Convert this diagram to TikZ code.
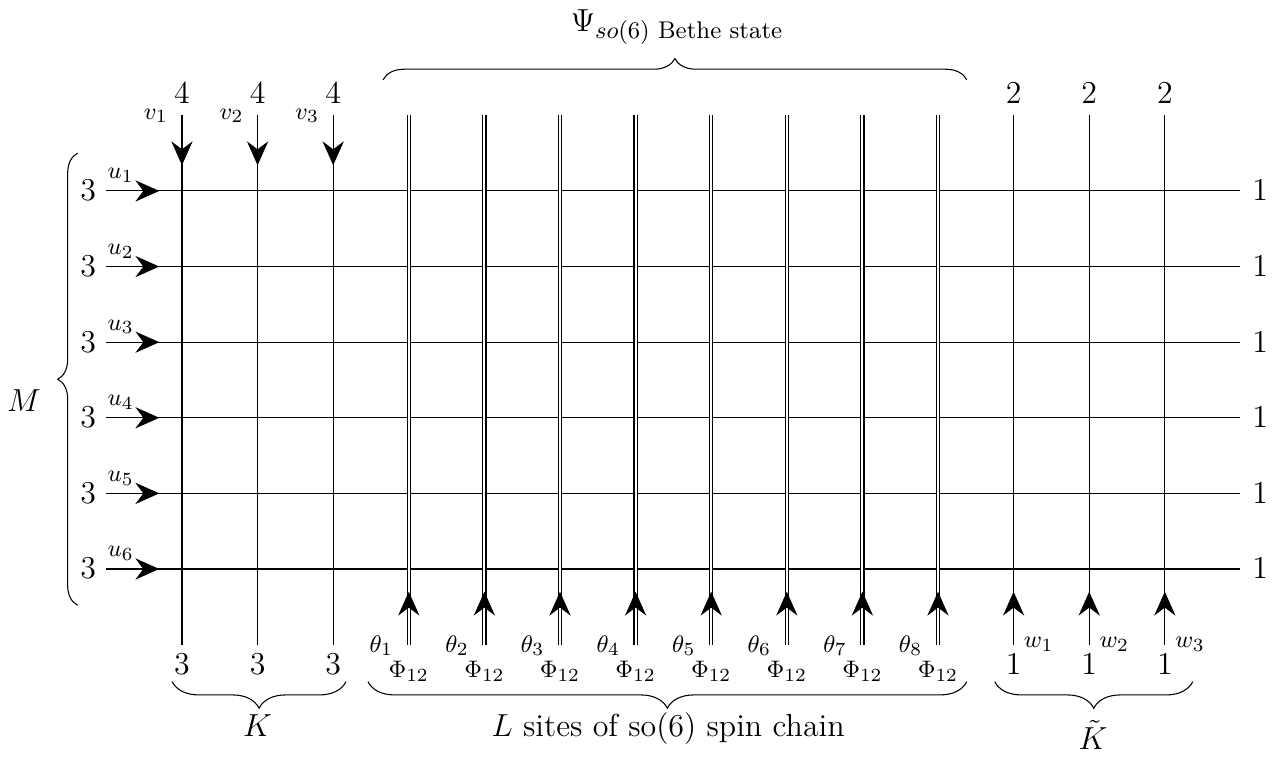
\documentclass[tikz,border=0pt]{standalone}
\usepackage{amsmath}
\usetikzlibrary{arrows.meta,decorations.pathreplacing}

\begin{document}
\begin{tikzpicture}[
  arr/.style={-{Stealth[length=9pt,width=8pt,inset=3pt]}},
  dline/.style={double,double distance=0.8pt},
  br/.style={decorate,decoration={brace,amplitude=#1}},
  lbl/.style={font=\fontsize{9.4}{11}\selectfont,inner sep=0pt},
  num/.style={font=\fontsize{11.5}{13}\selectfont,inner sep=0pt},
  big/.style={font=\fontsize{12}{14}\selectfont}
]
  \useasboundingbox (-2.407,-2.513) rectangle (14.497,7.526);
  % rapidity lines
  \foreach \y in {0,...,5} \draw (-1,\y) -- (14,\y);
  \foreach \x in {0,1,2,11,12,13} \draw (\x,-1) -- (\x,6);
  % so(6) chain sites
  \foreach \x in {3,...,10} \draw[dline] (\x,-1) -- (\x,6);
  % arrows
  \foreach \y in {0,...,5} \draw[arr] (-1,\y) -- (-0.3,\y);
  \foreach \x in {0,1,2} \draw[arr] (\x,6) -- (\x,5.34);
  \foreach \x in {11,12,13} \draw[arr] (\x,-1) -- (\x,-0.3);
  \foreach \x in {3,...,10} \draw[arr] (\x,-0.45) -- (\x,-0.3);
  % labels on the horizontal lines
  \foreach \y/\i in {5/1,4/2,3/3,2/4,1/5,0/6} {
    \node[num,anchor=base east] (in\i) at (-1.13,\y-0.13) {$3$};
    \node[lbl,anchor=base west] (u\i) at (-0.99,\y+0.16) {$u_{\i}$};
    \node[num,anchor=base west] (out\i) at (14.15,\y-0.13) {$1$};
  }
  % labels on the vertical lines
  \foreach \x/\i in {0/1,1/2,2/3} {
    \node[num,anchor=base] (top\i) at (\x,6.16) {$4$};
    \node[lbl,anchor=base east] (v\i) at (\x-0.18,5.95) {$v_{\i}$};
    \node[num,anchor=base] (bot\i) at (\x,-1.40) {$3$};
  }
  \foreach \x/\i in {11/1,12/2,13/3} {
    \node[num,anchor=base] (topw\i) at (\x,6.16) {$2$};
    \node[lbl,anchor=base west] (w\i) at (\x+0.13,-1.04) {$w_{\i}$};
    \node[num,anchor=base] (botw\i) at (\x,-1.40) {$1$};
  }
  \foreach \x [evaluate=\x as \i using int(\x-2)] in {3,...,10} {
    \node[lbl,anchor=base east] (th\i) at (\x-0.2,-1.1) {$\theta_{\i}$};
    \node[lbl,anchor=base] (ph\i) at (\x,-1.44) {$\Phi_{12}$};
  }
  % braces
  \draw[br=7.5pt] (-1.38,-0.48) -- (-1.38,5.5);
  \draw[br=8pt] (2.66,6.47) -- (10.38,6.47);
  \draw[br=10pt] (2.17,-1.49) -- (-0.13,-1.49);
  \draw[br=10pt] (10.38,-1.49) -- (2.46,-1.49);
  \draw[br=10pt] (13.37,-1.49) -- (10.75,-1.49);
  \node[num,anchor=base] (M) at (-2.09,2.08) {$M$};
  \node[font=\fontsize{13}{15}\selectfont] (psi) at (6.55,7.17) {$\Psi_{so(6)\text{ Bethe state}}$};
  \node[num,anchor=base] (K) at (1,-2.22) {$K$};
  \node[big,anchor=base] (L) at (6.43,-2.22) {$L$ sites of so(6) spin chain};
  \node[num,anchor=base] (Kt) at (12.05,-2.39) {$\tilde K$};
\end{tikzpicture}
\end{document}
